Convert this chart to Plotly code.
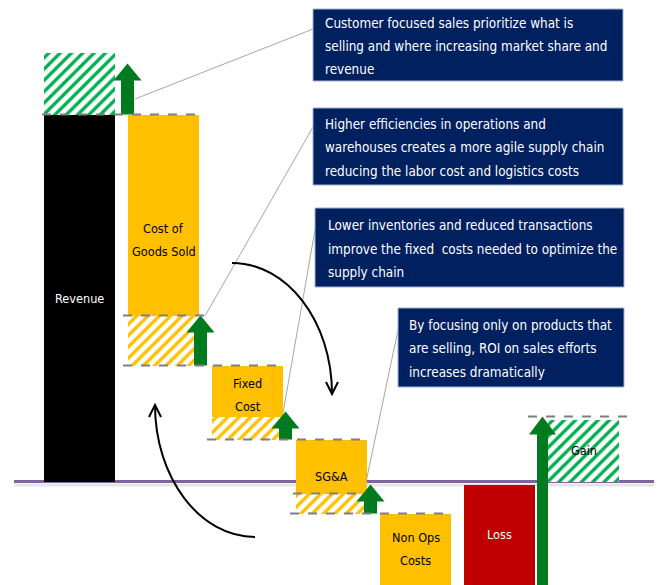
import plotly.graph_objects as go

# ---------------- data ----------------
categories = ["Revenue", "Cost of<br>Goods Sold", "Fixed<br>Cost", "SG&A", "Non Ops<br>Costs", "Loss", "Gain"]
revenue = 367
revenue_growth = 62
cost_values = [201, 51, 54, 90]      # COGS, Fixed Cost, SG&A, Non Ops Costs
cost_savings = [50, 23, 20]          # savings on COGS, Fixed Cost, SG&A
loss_value = 120
loss_top = -3
gain_value = 62

callout_texts = [
    ["Customer focused sales prioritize what is",
     "selling and where increasing market share and",
     "revenue"],
    ["Higher efficiencies in operations and",
     "warehouses creates a more agile supply chain",
     "reducing the labor cost and logistics costs"],
    ["Lower inventories and reduced transactions",
     "improve the fixed  costs needed to optimize the",
     "supply chain"],
    ["By focusing only on products that",
     "are selling, ROI on sales efforts",
     "increases dramatically"],
]

# ---------------- styling / layout helpers ----------------
W, H = 659, 585
X0PX, STEP = 79.5, 84.0      # pixel position of first bar centre, pixel step per category
BASE_PX = 481.5              # pixel row of the zero line
BAR_W = 0.845
FONT = "DejaVu Sans Condensed, Liberation Sans Narrow, Arial Narrow, sans-serif"
ORANGE, GREEN_H, GREEN_A, NAVY, RED = "#FFC000", "#00B050", "#007A1E", "#002060", "#C00000"

def xi(p):   # pixel x -> axis x
    return (p - X0PX) / STEP

def yv(p):   # pixel y -> axis y
    return BASE_PX - p

xpos = list(range(len(categories)))

# cumulative waterfall levels
lvl = revenue
cost_tops, cost_bots, sav_bots = [], [], []
for i, c in enumerate(cost_values):
    top, bot = lvl, lvl - c
    cost_tops.append(top); cost_bots.append(bot)
    lvl = bot
    if i < len(cost_savings):
        sb = lvl - cost_savings[i]
        sav_bots.append(sb)
        lvl = sb

fig = go.Figure()

def bar(x, top, bot, color=None, hatch=None):
    if hatch:
        marker = dict(color="white", line=dict(width=0),
                      pattern=dict(shape="/", fgcolor=hatch, bgcolor="white",
                                   size=8, solidity=0.42, fillmode="replace"))
    else:
        marker = dict(color=color, line=dict(width=0))
    fig.add_trace(go.Bar(x=[x], y=[top - bot], base=[bot], width=BAR_W,
                         marker=marker, hoverinfo="skip", showlegend=False))

# revenue + growth
bar(xpos[0], revenue, 0, color="black")
bar(xpos[0], revenue + revenue_growth, revenue, hatch=GREEN_H)
# costs and savings
for i in range(len(cost_values)):
    bar(xpos[i + 1], cost_tops[i], cost_bots[i], color=ORANGE)
    if i < len(cost_savings):
        bar(xpos[i + 1], cost_bots[i], sav_bots[i], hatch=ORANGE)
# loss and gain
bar(xpos[5], loss_top, loss_top - loss_value, color=RED)
bar(xpos[6], gain_value, 0, hatch=GREEN_H)

# ---------------- green block arrows ----------------
def block_arrow(xc_px, bottom, tip, shaft=13, head=28, head_h=17):
    xs = [xc_px - shaft / 2, xc_px - shaft / 2, xc_px - head / 2, xc_px,
          xc_px + head / 2, xc_px + shaft / 2, xc_px + shaft / 2, xc_px - shaft / 2]
    ys = [bottom, tip - head_h, tip - head_h, tip, tip - head_h, tip - head_h, bottom, bottom]
    fig.add_trace(go.Scatter(x=[xi(v) for v in xs], y=ys, mode="lines", fill="toself",
                             fillcolor=GREEN_A, line=dict(width=0, color=GREEN_A),
                             hoverinfo="skip", showlegend=False))

block_arrow(127.5, revenue, revenue + revenue_growth - 11)
block_arrow(200.5, sav_bots[0], cost_bots[0])
block_arrow(285.5, sav_bots[1], cost_bots[1] + 5)
block_arrow(370.5, sav_bots[2], cost_bots[2] + 9)
block_arrow(542.5, yv(600), gain_value + 3, shaft=11, head=27, head_h=18)

shapes = []
# zero line with soft shadow
shapes.append(dict(type="line", xref="x", yref="y", x0=xi(14), x1=xi(654), y0=-3.5, y1=-3.5,
                   line=dict(color="rgba(0,0,0,0.10)", width=3), layer="below"))
shapes.append(dict(type="line", xref="x", yref="y", x0=xi(14), x1=xi(654), y0=0, y1=0,
                   line=dict(color="#8064A2", width=3), layer="below"))

# dashed step lines
dash_lines = [
    (revenue, 42, 198),
    (cost_bots[0], 123, 211),
    (sav_bots[0], 123, 281),
    (sav_bots[1], 207, 365),
    (cost_bots[2], 293, 365),
    (sav_bots[2], 290, 448),
    (gain_value + 3, 528, 628),
]
for y, a, b in dash_lines:
    shapes.append(dict(type="line", xref="x", yref="y", x0=xi(a), x1=xi(b), y0=y, y1=y,
                       line=dict(color="#7F7F7F", width=2, dash="dash"), layer="above"))

# connector lines
connectors = [((135, 99), (313, 29)), ((205, 316), (313, 127)),
              ((283, 413), (315, 230)), ((366, 482), (398, 330))]
for (ax, ay), (bx, by) in connectors:
    shapes.append(dict(type="line", xref="x", yref="y", x0=xi(ax), y0=yv(ay), x1=xi(bx), y1=yv(by),
                       line=dict(color="#A6A6A6", width=1), layer="above"))

# curved black arrows (cubic bezier) with open heads
def curve(p0, c1, c2, p1, head):
    pts = [p0, c1, c2, p1]
    d = "M {},{} C {},{} {},{} {},{}".format(*[v for (px_, py_) in pts for v in (xi(px_), yv(py_))])
    shapes.append(dict(type="path", xref="x", yref="y", path=d,
                       line=dict(color="black", width=2), layer="above"))
    (h1, h2) = head
    d2 = "M {},{} L {},{} L {},{}".format(xi(h1[0]), yv(h1[1]), xi(p1[0]), yv(p1[1]), xi(h2[0]), yv(h2[1]))
    shapes.append(dict(type="path", xref="x", yref="y", path=d2,
                       line=dict(color="black", width=2), layer="above"))

curve((232, 263), (287, 263), (332, 321), (332, 394), ((326, 382), (338, 382)))
curve((255, 537), (200, 537), (155, 478), (155, 405), ((149, 417), (161, 417)))

# callout boxes
boxes = [(313, 623, 9, 81, [23, 46, 69], 323),
         (313, 623, 108, 185, [124, 147, 171], 323),
         (315, 624, 208, 287, [225, 249, 272], 326),
         (398, 624, 308, 387, [325, 348, 372], 407)]
annotations = []
for (x0, x1, y0, y1, rows, tx), lines in zip(boxes, callout_texts):
    shapes.append(dict(type="rect", xref="x", yref="y", x0=xi(x0), x1=xi(x1), y0=yv(y0), y1=yv(y1),
                       fillcolor=NAVY, line=dict(color="#9FB3D1", width=1), layer="above"))
    for r, t in zip(rows, lines):
        annotations.append(dict(x=xi(tx), y=yv(r), xref="x", yref="y", text=t, showarrow=False,
                                xanchor="left", yanchor="middle",
                                font=dict(family=FONT, size=13.4, color="white")))

# bar labels
vis_bottom = yv(H)
label_info = [
    (0, (revenue + 0) / 2, "white"),
    (1, (cost_tops[0] + sav_bots[0]) / 2, "black"),
    (2, (cost_tops[1] + sav_bots[1]) / 2 + 7.5, "black"),
    (3, (cost_tops[2] + sav_bots[2]) / 2, "black"),
    (4, (cost_tops[3] + vis_bottom) / 2, "black"),
    (5, (loss_top + vis_bottom) / 2, "white"),
    (6, gain_value / 2, "black"),
]
for i, yc, col in label_info:
    parts = categories[i].split("<br>")
    n = len(parts)
    for k, t in enumerate(parts):
        annotations.append(dict(x=xpos[i], y=yc + (n - 1) * 11.5 - k * 23, xref="x", yref="y",
                                text=t, showarrow=False, xanchor="center", yanchor="middle",
                                font=dict(family=FONT, size=12.6, color=col)))

fig.update_layout(
    width=W, height=H, margin=dict(l=0, r=0, t=0, b=0),
    paper_bgcolor="white", plot_bgcolor="white",
    barmode="overlay", bargap=0, showlegend=False,
    xaxis=dict(range=[xi(0), xi(W)], visible=False, fixedrange=True),
    yaxis=dict(range=[yv(H), yv(0)], visible=False, fixedrange=True),
    shapes=shapes, annotations=annotations,
)

fig.write_html("out.html")
